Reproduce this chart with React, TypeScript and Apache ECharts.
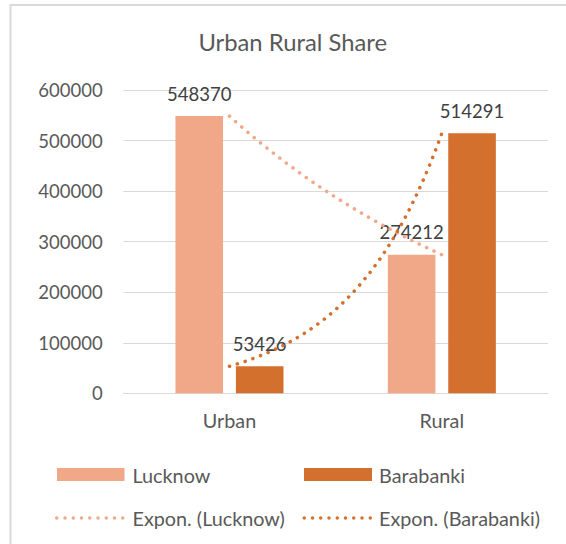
import React, { useEffect, useRef } from 'react';
import * as echarts from 'echarts';

const titleText = 'Urban Rural Share';
const categories = ['Urban', 'Rural'];
const lucknowValues = [548370, 274212];
const barabankiValues = [53426, 514291];
const seriesNames = ['Lucknow', 'Barabanki'];
const trendNames = ['Expon. (Lucknow)', 'Expon. (Barabanki)'];
const yMin = 0;
const yMax = 600000;
const yStep = 100000;

const FONT = 'Lato, "Open Sans", sans-serif';
const TEXT = '#595959';
const C_LUCK = '#F1A889';
const C_BARA = '#D3702E';
const GRID = '#D9D9D9';

// Excel-style exponential trendline: least squares fit of ln(y) on x = 1..n
function expTrend(values: number[], steps = 80): [number, number][] {
  const n = values.length;
  const xs = values.map((_, i) => i + 1);
  const ly = values.map((v) => Math.log(v));
  const mx = xs.reduce((s, x) => s + x, 0) / n;
  const my = ly.reduce((s, y) => s + y, 0) / n;
  let sxy = 0;
  let sxx = 0;
  for (let i = 0; i < n; i++) {
    sxy += (xs[i] - mx) * (ly[i] - my);
    sxx += (xs[i] - mx) * (xs[i] - mx);
  }
  const b = sxy / sxx;
  const la = my - b * mx;
  const pts: [number, number][] = [];
  for (let k = 0; k <= steps; k++) {
    const x = 1 + ((n - 1) * k) / steps;
    pts.push([x, Math.exp(la + b * x)]);
  }
  return pts;
}

function dotsIcon(): string {
  const r = 1.75;
  const sp = 8.25;
  let d = '';
  for (let i = 0; i < 9; i++) {
    const cx = r + i * sp;
    d += `M${cx - r} ${r}a${r} ${r} 0 1 0 ${2 * r} 0a${r} ${r} 0 1 0 ${-2 * r} 0Z`;
  }
  return 'path://' + d;
}

export default function App() {
  const ref = useRef<HTMLDivElement>(null);
  useEffect(() => {
    if (!ref.current) return;
    const chart = echarts.init(ref.current, undefined, { renderer: 'svg' });
    const wordStyle = { color: TEXT, fontFamily: FONT, fontSize: 19.8, lineHeight: 24 };
    const numStyle = { color: TEXT, fontFamily: FONT, fontSize: 18.5, lineHeight: 22 };
    const dotted = { width: 3.5, type: [0.1, 8.1] as number[], cap: 'round' as const };
    const barLabel = {
      show: true,
      position: 'top' as const,
      distance: 13,
      color: '#404040',
      fontFamily: FONT,
      fontSize: 18.5,
    };
    const legendBase = {
      orient: 'horizontal' as const,
      padding: 0,
      selectedMode: false,
    };
    chart.setOption({
      animation: false,
      backgroundColor: '#ffffff',
      graphic: [
        {
          type: 'rect',
          shape: { x: 10.5, y: 5, width: 700, height: 700 },
          style: { fill: 'none', stroke: GRID, lineWidth: 2 },
          silent: true,
        },
        {
          type: 'text',
          x: 292.7,
          y: 30,
          style: {
            text: titleText,
            textAlign: 'center',
            textVerticalAlign: 'top',
            fill: TEXT,
            font: `23.8px ${FONT}`,
          },
        },
      ],
      grid: { left: 123.3, right: 18, top: 90, bottom: 150.7, containLabel: false },
      xAxis: [
        {
          type: 'category',
          data: categories,
          axisTick: { show: false },
          axisLine: { lineStyle: { color: GRID, width: 1 } },
          axisLabel: { ...wordStyle, margin: 15 },
        },
        {
          type: 'value',
          min: 0.5,
          max: 2.5,
          show: false,
        },
      ],
      yAxis: {
        type: 'value',
        min: yMin,
        max: yMax,
        interval: yStep,
        axisLine: { show: false },
        axisTick: { show: false },
        splitLine: { lineStyle: { color: GRID, width: 1 } },
        axisLabel: { ...numStyle, margin: 20.6, formatter: (v: number) => String(v) },
      },
      legend: [
        { ...legendBase, data: [seriesNames[0]], left: 57, top: 462.5, itemWidth: 67.5, itemHeight: 13, icon: 'rect', textStyle: { ...wordStyle, padding: [0, 0, 0, 3] } },
        { ...legendBase, data: [seriesNames[1]], left: 304, top: 462.5, itemWidth: 68, itemHeight: 13, icon: 'rect', textStyle: { ...wordStyle, padding: [0, 0, 0, 2] } },
        { ...legendBase, data: [trendNames[0]], left: 55, top: 506, itemWidth: 69.5, itemHeight: 3.5, icon: dotsIcon(), itemStyle: { borderWidth: 0 }, textStyle: { ...wordStyle, padding: [0, 0, 0, 3] } },
        { ...legendBase, data: [trendNames[1]], left: 302.5, top: 506, itemWidth: 69.5, itemHeight: 3.5, icon: dotsIcon(), itemStyle: { borderWidth: 0 }, textStyle: { ...wordStyle, padding: [0, 0, 0, 2] } },
      ],
      series: [
        {
          name: seriesNames[0],
          type: 'bar',
          data: lucknowValues,
          barWidth: 47.6,
          barGap: '27%',
          itemStyle: { color: C_LUCK },
          label: barLabel,
        },
        {
          name: seriesNames[1],
          type: 'bar',
          data: barabankiValues,
          barWidth: 47.6,
          barGap: '27%',
          itemStyle: { color: C_BARA },
          label: barLabel,
        },
        {
          name: trendNames[0],
          type: 'line',
          xAxisIndex: 1,
          data: expTrend(lucknowValues),
          showSymbol: false,
          symbol: 'none',
          itemStyle: { color: C_LUCK },
          lineStyle: { ...dotted, color: C_LUCK },
          z: 3,
        },
        {
          name: trendNames[1],
          type: 'line',
          xAxisIndex: 1,
          data: expTrend(barabankiValues),
          showSymbol: false,
          symbol: 'none',
          itemStyle: { color: C_BARA },
          lineStyle: { ...dotted, color: C_BARA },
          z: 3,
        },
      ],
    });
    return () => chart.dispose();
  }, []);
  return <div ref={ref} style={{ position: 'absolute', left: 0, top: 0, width: 566, height: 544 }} />;
}
